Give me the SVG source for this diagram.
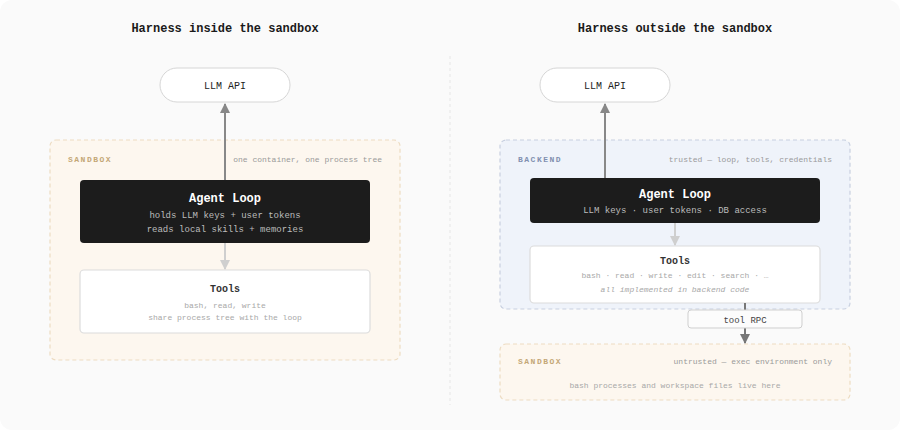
<svg xmlns="http://www.w3.org/2000/svg" width="900" height="430" viewBox="0 0 900 430">
<defs>
<style>
text{font-family:"Liberation Mono","DejaVu Sans Mono",monospace}
.title{font-size:12px;font-weight:bold;fill:#1a1a1a;text-anchor:middle}
.pill{fill:#fff;stroke:#d6d6d6;stroke-width:1}
.pilltxt{font-size:10px;fill:#222;text-anchor:middle}
.sb{fill:#fdf7ef;stroke:#eddcc2;stroke-width:1.2;stroke-dasharray:4 3}
.be{fill:#eff3fa;stroke:#c8d0e0;stroke-width:1.2;stroke-dasharray:4 3}
.zl{font-size:8px;font-weight:bold;letter-spacing:1.5px}
.zr{font-size:8px;fill:#9a9a9a;text-anchor:end}
.loop{fill:#1c1c1c}
.lt{font-size:12px;font-weight:bold;fill:#fff;text-anchor:middle}
.ls{font-size:9px;fill:#bdbdbd;text-anchor:middle}
.tool{fill:#fff;stroke:#dcdcdc;stroke-width:1.2}
.tt{font-size:10px;font-weight:bold;fill:#333;text-anchor:middle}
.ts{font-size:8px;fill:#a8a8a8;text-anchor:middle}
.dark{stroke:#888;stroke-width:2;fill:none}
.light{stroke:#cfcfcf;stroke-width:2;fill:none}
</style>
<marker id="ad" viewBox="0 0 10 10" refX="9" refY="5" markerWidth="5" markerHeight="5" orient="auto-start-reverse" markerUnits="strokeWidth"><path d="M0,0 L10,5 L0,10 z" fill="#888"/></marker>
<marker id="al" viewBox="0 0 10 10" refX="9" refY="5" markerWidth="5" markerHeight="5" orient="auto-start-reverse" markerUnits="strokeWidth"><path d="M0,0 L10,5 L0,10 z" fill="#cfcfcf"/></marker>
<marker id="ar" viewBox="0 0 10 10" refX="9" refY="5" markerWidth="5" markerHeight="5" orient="auto-start-reverse" markerUnits="strokeWidth"><path d="M0,0 L10,5 L0,10 z" fill="#777"/></marker>
</defs>
<rect x="0" y="0" width="900" height="430" rx="12" fill="#fafafa"/>
<line x1="450" y1="56" x2="450" y2="405" stroke="#e6e6e6" stroke-width="1" stroke-dasharray="3 3"/>
<text class="title" x="225" y="32">Harness inside the sandbox</text>
<text class="title" x="675" y="32">Harness outside the sandbox</text>

<g id="left-sandbox">
<rect class="sb" x="50" y="140" width="350" height="220" rx="6"/>
<text class="zl" x="68" y="162" fill="#c4a777">SANDBOX</text>
<text class="zr" x="382" y="162">one container, one process tree</text>
</g>
<g id="left-llm">
<rect class="pill" x="160" y="68" width="130" height="34" rx="17"/>
<text class="pilltxt" x="225" y="89">LLM API</text>
</g>
<g id="left-loop">
<rect class="loop" x="80" y="180" width="290" height="63" rx="4"/>
<text class="lt" x="225" y="202">Agent Loop</text>
<text class="ls" x="225" y="218">holds LLM keys + user tokens</text>
<text class="ls" x="225" y="232">reads local skills + memories</text>
</g>
<g id="left-tools">
<rect class="tool" x="80" y="270" width="290" height="63" rx="4"/>
<text class="tt" x="225" y="292">Tools</text>
<text class="ts" x="225" y="308">bash, read, write</text>
<text class="ts" x="225" y="320">share process tree with the loop</text>
</g>

<g id="right-backend">
<rect class="be" x="500" y="140" width="350" height="169" rx="6"/>
<text class="zl" x="518" y="162" fill="#8290b0">BACKEND</text>
<text class="zr" x="832" y="162">trusted — loop, tools, credentials</text>
</g>
<g id="right-sandbox">
<rect class="sb" x="500" y="344" width="350" height="56" rx="6"/>
<text class="zl" x="518" y="364" fill="#c4a777">SANDBOX</text>
<text class="zr" x="832" y="364">untrusted — exec environment only</text>
<text class="ts" x="675" y="388">bash processes and workspace files live here</text>
</g>
<g id="right-llm">
<rect class="pill" x="540" y="68" width="130" height="34" rx="17"/>
<text class="pilltxt" x="605" y="89">LLM API</text>
</g>
<g id="right-loop">
<rect class="loop" x="530" y="178" width="290" height="45" rx="4"/>
<text class="lt" x="675" y="198">Agent Loop</text>
<text class="ls" x="675" y="213">LLM keys · user tokens · DB access</text>
</g>
<g id="right-tools">
<rect class="tool" x="530" y="246" width="290" height="57" rx="4"/>
<text class="tt" x="675" y="264">Tools</text>
<text class="ts" x="675" y="278">bash · read · write · edit · search · …</text>
<text class="ts" x="675" y="292" font-style="italic">all implemented in backend code</text>
</g>

<g id="connectors">
<line class="dark" x1="225" y1="180" x2="225" y2="104" marker-end="url(#ad)"/>
<line class="light" x1="225" y1="243" x2="225" y2="269" marker-end="url(#al)"/>
<line class="dark" x1="605" y1="178" x2="605" y2="104" marker-end="url(#ad)"/>
<line class="light" x1="675" y1="223" x2="675" y2="245" marker-end="url(#al)"/>
<line x1="745" y1="303" x2="745" y2="310" stroke="#777" stroke-width="2"/>
<line x1="745" y1="328" x2="745" y2="343" stroke="#777" stroke-width="2" marker-end="url(#ar)"/>
</g>
<g id="tool-rpc">
<rect x="688" y="310" width="114" height="18" rx="3" fill="#fcfcfc" stroke="#cfcfcf" stroke-width="1"/>
<text x="745" y="322.5" font-size="9" fill="#444" text-anchor="middle">tool RPC</text>
</g>
</svg>
